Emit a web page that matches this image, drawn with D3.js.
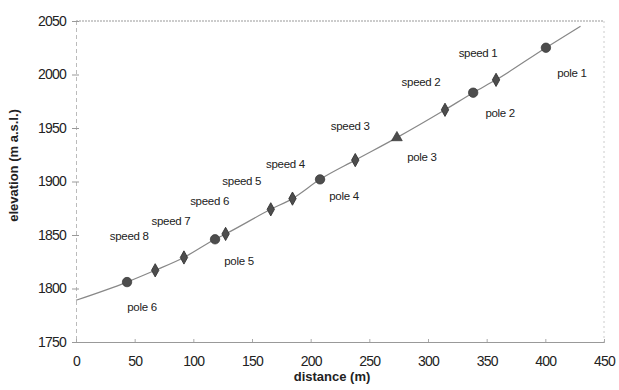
<!DOCTYPE html>
<html>
<head>
<meta charset="utf-8">
<script src="https://cdnjs.cloudflare.com/ajax/libs/d3/7.8.5/d3.min.js"></script>
<style>
  body { margin: 0; background: #fff; }
  svg text { font-family: "Liberation Sans", Arial, sans-serif; fill: #222; }
</style>
</head>
<body>
<svg id="chart" width="619" height="390"></svg>
<script>
// point data
var names = ["pole 6", "speed 8", "speed 7", "pole 5", "speed 6", "speed 5", "speed 4",
             "pole 4", "speed 3", "pole 3", "speed 2", "pole 2", "speed 1", "pole 1"];
var kinds = ["circle", "diamond", "diamond", "circle", "diamond", "diamond", "diamond",
             "circle", "diamond", "triangle", "diamond", "circle", "diamond", "circle"];
var distance  = [43.5, 67.5, 92, 118.5, 127.5, 166, 184.5, 208, 238, 273.5, 314.5, 338.5, 358, 400.5];
var elevation = [1806, 1817, 1829, 1846, 1851, 1874, 1884, 1902, 1920, 1941, 1967, 1983, 1995, 2025];

// profile line ends (before first and after last point)
var lineStart = [0, 1789];
var lineEnd = [430, 2045];

var xTicks = [0, 50, 100, 150, 200, 250, 300, 350, 400, 450];
var yTicks = [1750, 1800, 1850, 1900, 1950, 2000, 2050];

// label offsets in pixels from each marker (layout only)
var labelOffset = {
  "pole 6": [15, 25], "speed 8": [-26, -34], "speed 7": [-13, -36], "pole 5": [24, 22],
  "speed 6": [-16, -33], "speed 5": [-29, -28], "speed 4": [-7, -35], "pole 4": [24, 17],
  "speed 3": [-5, -34], "pole 3": [25, 19], "speed 2": [-24, -28], "pole 2": [27, 20],
  "speed 1": [-18, -27], "pole 1": [26, 25]
};

var margin = { left: 76, top: 21, right: 15, bottom: 48 };
var width = 619 - margin.left - margin.right,
    height = 390 - margin.top - margin.bottom;

var x = d3.scaleLinear().domain([0, 450]).range([0, width]);
var y = d3.scaleLinear().domain([1750, 2050]).range([height, 0]);

var svg = d3.select("#chart");
var g = svg.append("g").attr("transform", "translate(" + margin.left + "," + margin.top + ")");

// frame: top and right dotted
g.append("line").attr("x1", 0).attr("x2", width).attr("y1", 0).attr("y2", 0)
  .attr("stroke", "#999").attr("stroke-dasharray", "2,1");
g.append("line").attr("x1", width).attr("x2", width).attr("y1", 0).attr("y2", height)
  .attr("stroke", "#ccc").attr("stroke-dasharray", "2,3");

// y axis
var yAxis = g.append("g").call(d3.axisLeft(y).tickValues(yTicks).tickFormat(d3.format("d"))
  .tickSize(4).tickPadding(6));
yAxis.select(".domain").attr("stroke", "#bbb").attr("stroke-dasharray", "4,3");
yAxis.selectAll(".tick line").attr("stroke", "#999").attr("x2", -4).attr("x1", 3);
yAxis.selectAll(".tick text").style("font-size", "14px").style("letter-spacing", "-0.8px")
  .attr("fill", "#222").attr("font-family", "Liberation Sans, Arial, sans-serif");

// x axis
var xAxis = g.append("g").attr("transform", "translate(0," + height + ")")
  .call(d3.axisBottom(x).tickValues(xTicks).tickFormat(d3.format("d")).tickSize(-3).tickPadding(14));
xAxis.select(".domain").attr("stroke", "#999");
xAxis.selectAll(".tick line").attr("stroke", "#aaa");
xAxis.selectAll(".tick text").style("font-size", "14px").style("letter-spacing", "-0.8px")
  .attr("fill", "#222").attr("font-family", "Liberation Sans, Arial, sans-serif");

// axis titles
svg.append("text").attr("x", margin.left + x(225) - 8).attr("y", 381)
  .attr("text-anchor", "middle").style("font-size", "13px").style("font-weight", "bold")
  .text("distance (m)");
svg.append("text").attr("transform", "translate(18," + (margin.top + y(1915)) + ") rotate(-90)")
  .attr("text-anchor", "middle").style("font-size", "13px").style("font-weight", "bold")
  .text("elevation (m a.s.l.)");

// profile line
var pts = [lineStart].concat(distance.map(function (d, i) { return [d, elevation[i]]; }), [lineEnd]);
var line = d3.line()
  .x(function (d) { return x(d[0]); })
  .y(function (d) { return y(d[1]); })
  .curve(d3.curveMonotoneX);
g.append("path").datum(pts).attr("d", line)
  .attr("fill", "none").attr("stroke", "#888").attr("stroke-width", 1.2);

// markers
var symbolType = { circle: d3.symbolCircle, diamond: d3.symbolDiamond, triangle: d3.symbolTriangle };
var symbolSize = { circle: 70, diamond: 30, triangle: 50 };
var data = names.map(function (n, i) {
  return { name: n, kind: kinds[i], d: distance[i], e: elevation[i] };
});

g.selectAll(".mark").data(data).enter().append("path")
  .attr("class", "mark")
  .attr("transform", function (d) {
    var s = d.kind === "diamond" ? " scale(1.25,1.3)" : "";
    return "translate(" + x(d.d) + "," + y(d.e) + ")" + s;
  })
  .attr("d", function (d) { return d3.symbol().type(symbolType[d.kind]).size(symbolSize[d.kind])(); })
  .attr("fill", "#4d4d4d").attr("stroke", "#333").attr("stroke-width", 0.7);

// labels
g.selectAll(".lbl").data(data).enter().append("text")
  .attr("class", "lbl")
  .attr("x", function (d) { return x(d.d) + labelOffset[d.name][0]; })
  .attr("y", function (d) { return y(d.e) + labelOffset[d.name][1]; })
  .attr("dy", "0.35em")
  .attr("text-anchor", "middle")
  .style("font-size", "11.5px").style("letter-spacing", "-0.3px")
  .text(function (d) { return d.name; });
</script>
</body>
</html>
